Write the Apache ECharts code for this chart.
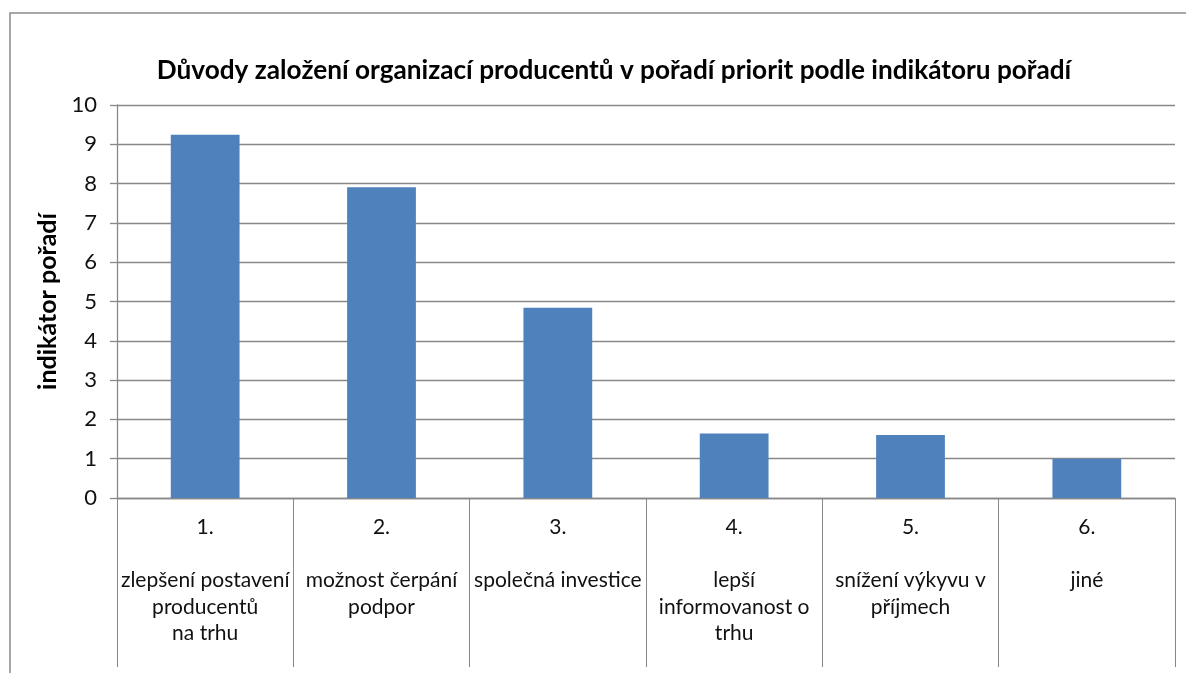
<!DOCTYPE html>
<html><head><meta charset="utf-8">
<script src="https://cdn.jsdelivr.net/npm/echarts@6/dist/echarts.min.js"></script>
<style>html,body{margin:0;padding:0;background:#fff}#c{width:1186px;height:673px}</style>
</head><body><div id="c"></div>
<script>
const titleText = 'Důvody založení organizací producentů v pořadí priorit podle indikátoru pořadí';
const yAxisName = 'indikátor pořadí';
const categories = [
  '1.\n\nzlepšení postavení\nproducentů\nna trhu',
  '2.\n\nmožnost čerpání\npodpor',
  '3.\n\nspolečná investice',
  '4.\n\nlepší\ninformovanost o\ntrhu',
  '5.\n\nsnížení výkyvu v\npříjmech',
  '6.\n\njiné'
];
const values = [9.24, 7.91, 4.84, 1.64, 1.6, 1.0];
const yMin = 0, yMax = 10, yInterval = 1;

const chart = echarts.init(document.getElementById('c'), null, {renderer:'canvas'});
const FONT = 'Lato';
chart.setOption({
  animation: false,
  backgroundColor: '#ffffff',
  title: {
    text: titleText, left: 609, textAlign: 'center', top: 53,
    textStyle: {fontFamily: FONT, fontWeight: 'bold', fontSize: 26.2, color: '#000'}
  },
  graphic: [
    {type:'polyline', shape:{points:[[10,700],[10,13],[1200,13]]}, style:{stroke:'#8a8a8a', lineWidth:1.5, fill:null}}
  ],
  grid: {left: 117, right: 11, top: 105, bottom: 175, containLabel: false},
  xAxis: {
    type: 'category', data: categories,
    axisLine: {show: true, lineStyle: {color: '#888', width: 1.3}},
    axisTick: {show: true, alignWithLabel: false, length: 169, lineStyle: {color: '#888', width: 1}},
    axisLabel: {interval: 0, margin: 16, fontFamily: FONT, fontSize: 21, color: '#111', lineHeight: 26.5, align: 'center'}
  },
  yAxis: {
    type: 'value', min: yMin, max: yMax, interval: yInterval,
    name: yAxisName, nameLocation: 'middle', nameGap: 50, nameRotate: 90,
    nameTextStyle: {fontFamily: FONT, fontWeight: 'bold', fontSize: 25, color: '#000'},
    axisLine: {show: true, lineStyle: {color: '#888', width: 1.3}},
    axisTick: {show: true, length: 7, lineStyle: {color: '#888', width: 1.3}},
    axisLabel: {margin: 20, fontFamily: FONT, fontSize: 22, color: '#111'},
    splitLine: {show: true, lineStyle: {color: '#888', width: 1.3}}
  },
  series: [{
    type: 'bar', data: values, barWidth: '39%',
    itemStyle: {color: '#4F81BD'}
  }]
});
</script></body></html>
